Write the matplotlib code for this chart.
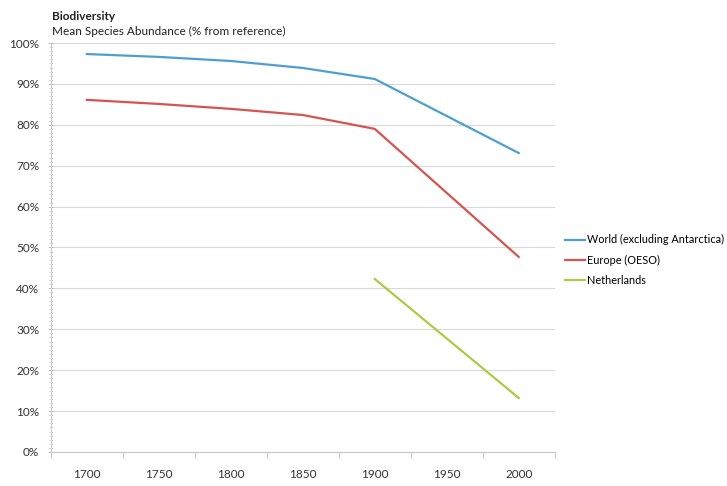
import numpy as np
import matplotlib.pyplot as plt
from matplotlib.ticker import MultipleLocator, FixedLocator, FuncFormatter

plt.rcParams['font.family'] = ['Lato', 'DejaVu Sans']

years = ['1700', '1750', '1800', '1850', '1900', '1950', '2000']
world = [97.3, 96.6, 95.6, 93.9, 91.2, None, 73.1]
europe = [86.1, 85.1, 83.9, 82.4, 79.0, None, 47.7]
netherlands = [None, None, None, None, 42.3, None, 13.2]

labels = ['World (excluding Antarctica)', 'Europe (OESO)', 'Netherlands']
colors = ['#4E9FD1', '#D4554F', '#A9CC45']

fig = plt.figure(figsize=(7.27, 4.86), dpi=100)
ax = fig.add_axes([0.070, 0.070, 0.693, 0.8415])

x = np.arange(len(years))
for vals, lab, col in zip([world, europe, netherlands], labels, colors):
    xs = [i for i, v in zip(x, vals) if v is not None]
    ys = [v for v in vals if v is not None]
    ax.plot(xs, ys, color=col, lw=1.6, label=lab)

ax.set_xlim(-0.5, len(years) - 0.5)
ax.set_ylim(0, 100)
ax.yaxis.set_major_locator(MultipleLocator(10))
ax.yaxis.set_minor_locator(MultipleLocator(1))
ax.yaxis.set_major_formatter(FuncFormatter(lambda v, p: f'{v:.0f}%'))
ax.xaxis.set_major_locator(FixedLocator(np.arange(-0.5, len(years), 1)))
ax.xaxis.set_major_formatter(FuncFormatter(lambda v, p: ''))
ax.xaxis.set_minor_locator(FixedLocator(x))
ax.set_xticklabels(years, minor=True)

ax.grid(axis='y', color='#d9d9d9', lw=0.8)
ax.set_axisbelow(True)
for s in ['top', 'right']:
    ax.spines[s].set_visible(False)
for s in ['left', 'bottom']:
    ax.spines[s].set_color('#c8c8c8')
    ax.spines[s].set_linewidth(0.8)

ax.tick_params(axis='y', which='major', length=5, color='#c8c8c8', labelsize=8.5,
               labelcolor='#333333', pad=6, direction='inout')
ax.tick_params(axis='y', which='minor', length=3, color='#d0d0d0', direction='inout')
ax.tick_params(axis='x', which='major', length=4, color='#c8c8c8')
ax.tick_params(axis='x', which='minor', length=0, labelsize=8.5, labelcolor='#333333', pad=12)

fig.text(0.072, 0.966, 'Biodiversity', fontsize=8.5, fontweight='bold', color='#222222', va='center')
fig.text(0.072, 0.936, 'Mean Species Abundance (% from reference)', fontsize=8.5,
         color='#222222', va='center')

ax.legend(loc='center left', bbox_to_anchor=(565 / 727, 0.465), bbox_transform=fig.transFigure,
          frameon=False, fontsize=7.8, handlelength=1.8, handletextpad=0.2,
          labelspacing=0.85, borderpad=0, borderaxespad=0)

fig.savefig('out.png', dpi=100)
